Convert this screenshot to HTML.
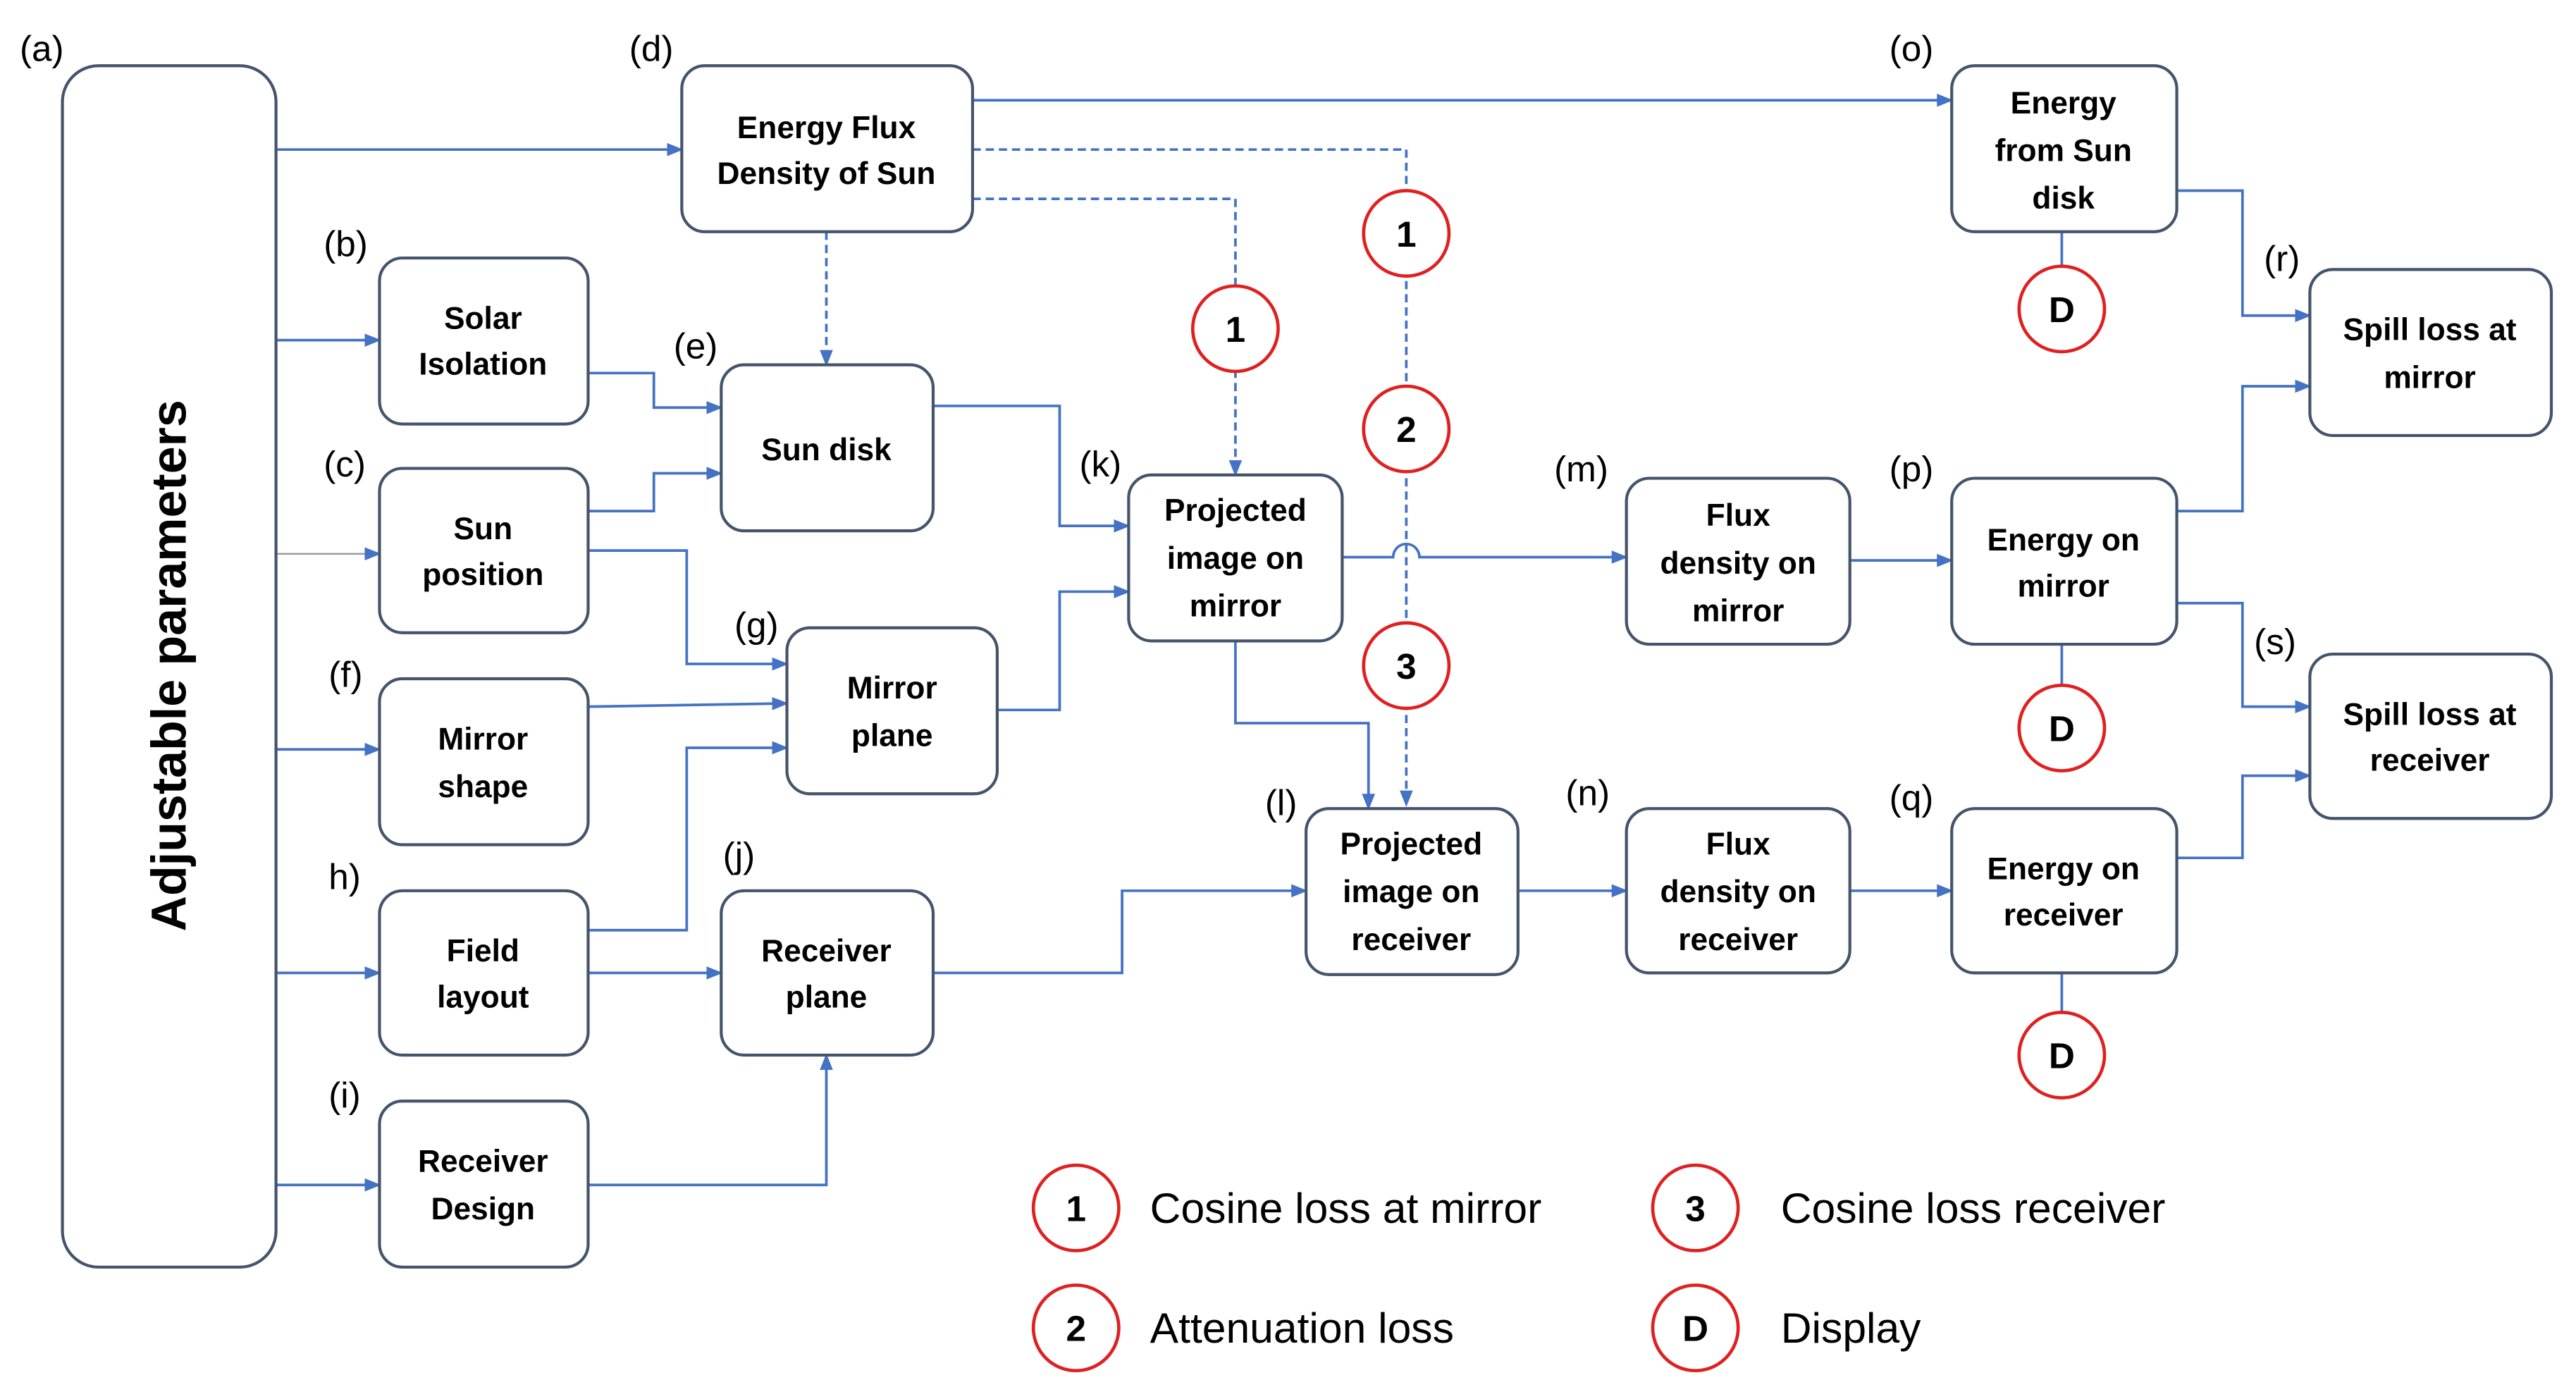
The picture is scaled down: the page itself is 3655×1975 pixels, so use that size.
<!DOCTYPE html>
<html><head><meta charset="utf-8"><style>
html,body{margin:0;padding:0;background:#fff;}
svg{display:block;}
text{font-family:"Liberation Sans",sans-serif;}
.b{fill:#fff;stroke:#44546A;stroke-width:1.8;}
.t{font-weight:bold;font-size:19px;fill:#000;text-anchor:middle;}
.l{font-size:22px;fill:#000;}
.c{fill:none;stroke:#4472C4;stroke-width:1.6;}
.d{fill:none;stroke:#4472C4;stroke-width:1.6;stroke-dasharray:5,3;}
.r{fill:#fff;stroke:#E02020;stroke-width:2;}
.rt{font-weight:bold;font-size:22px;text-anchor:middle;fill:#000;}
.lg{font-size:26px;fill:#000;}
</style></head><body>
<svg width="3655" height="1975" viewBox="0 0 1568 847" preserveAspectRatio="none" xmlns="http://www.w3.org/2000/svg">
<defs><marker id="a" markerWidth="10" markerHeight="8" refX="9" refY="4" orient="auto" markerUnits="userSpaceOnUse"><path d="M0,0 L10,4 L0,8 z" fill="#4472C4"/></marker></defs>
<!-- connectors -->
<g marker-end="url(#a)">
<path class="c" d="M168,91H415"/>
<path class="c" d="M168,207H231"/>
<path class="c" d="M168,337H231" style="stroke:#999;stroke-width:1"/>
<path class="c" d="M168,456H231"/>
<path class="c" d="M168,592H231"/>
<path class="c" d="M168,721H231"/>
<path class="c" d="M592,61H1188"/>
<path class="d" d="M592,91H856V490"/>
<path class="d" d="M592,121H752V289"/>
<path class="d" d="M503,141V222"/>
<path class="c" d="M358,227H398V248H439"/>
<path class="c" d="M358,311H398V288H439"/>
<path class="c" d="M358,335H418V404H479"/>
<path class="c" d="M358,430L479,428"/>
<path class="c" d="M358,566H418V455H479"/>
<path class="c" d="M358,592H439"/>
<path class="c" d="M358,721H503V642"/>
<path class="c" d="M568,247H645V320H687"/>
<path class="c" d="M607,432H645V360H687"/>
<path class="c" d="M817,339H848A8,8 0 0 1 864,339H990"/>
<path class="c" d="M752,390V440H833V492"/>
<path class="c" d="M568,592H683V542H795"/>
<path class="c" d="M924,542H990"/>
<path class="c" d="M1126,341H1188"/>
<path class="c" d="M1126,542H1188"/>
<path class="c" d="M1325,116H1365V192H1406"/>
<path class="c" d="M1325,311H1365V235H1406"/>
<path class="c" d="M1325,367H1365V430H1406"/>
<path class="c" d="M1325,522H1365V472H1406"/>
</g>
<path class="c" d="M1255,141V162M1255,392V417M1255,592V616"/>
<!-- boxes -->
<rect class="b" x="38" y="40" width="130" height="731" rx="22"/>
<text transform="translate(113,405) rotate(-90)" style="font-weight:bold;font-size:30px;text-anchor:middle">Adjustable parameters</text>
<rect class="b" x="415" y="40" width="177" height="101" rx="14"/>
<text class="t" x="503" y="84">Energy Flux</text><text class="t" x="503" y="112">Density of Sun</text>
<rect class="b" x="231" y="157" width="127" height="101" rx="14"/>
<text class="t" x="294" y="200">Solar</text><text class="t" x="294" y="228">Isolation</text>
<rect class="b" x="231" y="285" width="127" height="100" rx="14"/>
<text class="t" x="294" y="328">Sun</text><text class="t" x="294" y="356">position</text>
<rect class="b" x="231" y="413" width="127" height="101" rx="14"/>
<text class="t" x="294" y="456">Mirror</text><text class="t" x="294" y="485">shape</text>
<rect class="b" x="231" y="542" width="127" height="100" rx="14"/>
<text class="t" x="294" y="585">Field</text><text class="t" x="294" y="613">layout</text>
<rect class="b" x="231" y="670" width="127" height="101" rx="14"/>
<text class="t" x="294" y="713">Receiver</text><text class="t" x="294" y="742">Design</text>
<rect class="b" x="439" y="222" width="129" height="101" rx="14"/>
<text class="t" x="503" y="280">Sun disk</text>
<rect class="b" x="479" y="382" width="128" height="101" rx="14"/>
<text class="t" x="543" y="425">Mirror</text><text class="t" x="543" y="454">plane</text>
<rect class="b" x="439" y="542" width="129" height="100" rx="14"/>
<text class="t" x="503" y="585">Receiver</text><text class="t" x="503" y="613">plane</text>
<rect class="b" x="687" y="289" width="130" height="101" rx="14"/>
<text class="t" x="752" y="317">Projected</text><text class="t" x="752" y="346">image on</text><text class="t" x="752" y="375">mirror</text>
<rect class="b" x="795" y="492" width="129" height="101" rx="14"/>
<text class="t" x="859" y="520">Projected</text><text class="t" x="859" y="549">image on</text><text class="t" x="859" y="578">receiver</text>
<rect class="b" x="990" y="291" width="136" height="101" rx="14"/>
<text class="t" x="1058" y="320">Flux</text><text class="t" x="1058" y="349">density on</text><text class="t" x="1058" y="378">mirror</text>
<rect class="b" x="990" y="492" width="136" height="100" rx="14"/>
<text class="t" x="1058" y="520">Flux</text><text class="t" x="1058" y="549">density on</text><text class="t" x="1058" y="578">receiver</text>
<rect class="b" x="1188" y="40" width="137" height="101" rx="14"/>
<text class="t" x="1256" y="69">Energy</text><text class="t" x="1256" y="98">from Sun</text><text class="t" x="1256" y="127">disk</text>
<rect class="b" x="1188" y="291" width="137" height="101" rx="14"/>
<text class="t" x="1256" y="335">Energy on</text><text class="t" x="1256" y="363">mirror</text>
<rect class="b" x="1188" y="492" width="137" height="100" rx="14"/>
<text class="t" x="1256" y="535">Energy on</text><text class="t" x="1256" y="563">receiver</text>
<rect class="b" x="1406" y="164" width="147" height="101" rx="14"/>
<text class="t" x="1479" y="207">Spill loss at</text><text class="t" x="1479" y="236">mirror</text>
<rect class="b" x="1406" y="398" width="147" height="100" rx="14"/>
<text class="t" x="1479" y="441">Spill loss at</text><text class="t" x="1479" y="469">receiver</text>
<!-- circles -->
<g>
<circle class="r" cx="752" cy="200" r="26"/><text class="rt" x="752" y="208">1</text>
<circle class="r" cx="856" cy="142" r="26"/><text class="rt" x="856" y="150">1</text>
<circle class="r" cx="856" cy="261" r="26"/><text class="rt" x="856" y="269">2</text>
<circle class="r" cx="856" cy="405" r="26"/><text class="rt" x="856" y="413">3</text>
<circle class="r" cx="1255" cy="188" r="26"/><text class="rt" x="1255" y="196">D</text>
<circle class="r" cx="1255" cy="443" r="26"/><text class="rt" x="1255" y="451">D</text>
<circle class="r" cx="1255" cy="642" r="26"/><text class="rt" x="1255" y="650">D</text>
<circle class="r" cx="655" cy="735" r="26"/><text class="rt" x="655" y="743">1</text>
<circle class="r" cx="655" cy="808" r="26"/><text class="rt" x="655" y="816">2</text>
<circle class="r" cx="1032" cy="735" r="26"/><text class="rt" x="1032" y="743">3</text>
<circle class="r" cx="1032" cy="808" r="26"/><text class="rt" x="1032" y="816">D</text>
</g>
<text class="lg" x="700" y="744">Cosine loss at mirror</text>
<text class="lg" x="700" y="817">Attenuation loss</text>
<text class="lg" x="1084" y="744">Cosine loss receiver</text>
<text class="lg" x="1084" y="817">Display</text>
<!-- labels -->
<text class="l" x="12" y="37">(a)</text>
<text class="l" x="383" y="37">(d)</text>
<text class="l" x="197" y="156">(b)</text>
<text class="l" x="197" y="290">(c)</text>
<text class="l" x="200" y="418">(f)</text>
<text class="l" x="200" y="541">h)</text>
<text class="l" x="200" y="674">(i)</text>
<text class="l" x="410" y="218">(e)</text>
<text class="l" x="447" y="388">(g)</text>
<text class="l" x="440" y="528">(j)</text>
<text class="l" x="657" y="290">(k)</text>
<text class="l" x="946" y="293">(m)</text>
<text class="l" x="770" y="496">(l)</text>
<text class="l" x="953" y="490">(n)</text>
<text class="l" x="1150" y="37">(o)</text>
<text class="l" x="1150" y="293">(p)</text>
<text class="l" x="1150" y="493">(q)</text>
<text class="l" x="1378" y="165">(r)</text>
<text class="l" x="1372" y="398">(s)</text>
</svg>
</body></html>
